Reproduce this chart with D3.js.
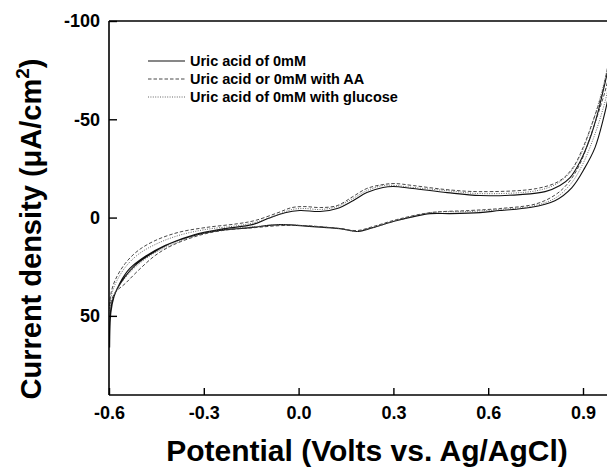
<!DOCTYPE html>
<meta charset="utf-8">
<head>
	<style>
		body { margin: 0; background: #fff; }
		text { font-family: Arial, "Liberation Sans", sans-serif; font-weight: bold; fill: #000; }
		.curve { fill: none; }
	</style>
	<script src="https://cdn.jsdelivr.net/npm/d3@7"></script>
</head>
<body>
<script>

	// potential (V) , current density (uA/cm2) — each loop: forward scan, vertex, reverse scan
	var uricAcid = [
		[-0.598,66.1],[-0.597,51.4],[-0.591,43.2],[-0.575,36.6],[-0.549,30.0],[-0.518,24.4],[-0.470,18.8],
		[-0.407,13.2],[-0.328,8.6],[-0.233,5.6],[-0.147,3.6],[-0.097,0.5],[-0.043,-2.5],[0.004,-3.6],
		[0.068,-3.1],[0.122,-4.6],[0.172,-8.6],[0.216,-12.7],[0.267,-15.3],[0.299,-15.8],[0.362,-14.8],
		[0.470,-12.7],[0.574,-11.2],[0.701,-11.7],[0.780,-13.2],[0.827,-16.3],[0.859,-20.3],[0.891,-28.5],
		[0.922,-40.2],[0.947,-53.4],[0.970,-68.7],[1.004,-92.0],
		[0.985,-65.6],[0.963,-49.3],[0.938,-35.6],[0.906,-25.4],[0.865,-15.3],[0.811,-8.6],[0.732,-5.1],
		[0.637,-3.6],[0.574,-2.5],[0.479,-2.0],[0.416,-2.0],[0.311,1.5],[0.235,5.1],[0.185,7.1],[0.131,5.6],
		[0.046,4.6],[-0.059,3.6],[-0.154,5.1],[-0.249,6.6],[-0.344,9.7],[-0.423,14.2],[-0.486,19.8],
		[-0.534,25.9],[-0.565,33.1],[-0.584,40.2],[-0.594,48.3],[-0.598,66.1]
	];

	var uricAcidAA = [
		[-0.598,44.8],[-0.594,38.7],[-0.581,32.0],[-0.549,23.4],[-0.508,16.8],[-0.454,11.7],[-0.382,7.6],
		[-0.296,5.1],[-0.192,3.1],[-0.138,1.5],[-0.065,-2.5],[-0.021,-5.1],[0.020,-5.6],[0.068,-5.1],
		[0.122,-6.1],[0.172,-10.7],[0.216,-14.8],[0.267,-16.8],[0.305,-17.3],[0.362,-16.3],[0.470,-14.2],
		[0.574,-13.2],[0.754,-14.8],[0.827,-18.8],[0.868,-25.4],[0.900,-35.6],[0.932,-49.3],[0.960,-63.1],
		[0.976,-74.8],[1.000,-95.0],
		[0.976,-68.2],[0.954,-56.0],[0.922,-40.7],[0.891,-27.5],[0.859,-18.8],[0.818,-12.2],[0.754,-7.1],
		[0.637,-4.6],[0.542,-3.6],[0.416,-2.5],[0.311,1.0],[0.235,4.6],[0.185,6.6],[0.131,5.6],[0.020,4.1],
		[-0.059,4.1],[-0.138,5.1],[-0.242,6.6],[-0.318,9.2],[-0.401,14.2],[-0.454,19.3],[-0.508,27.0],
		[-0.549,33.6],[-0.581,38.2],[-0.598,44.8]
	];

	var uricAcidGlucose = [
		[-0.598,47.3],[-0.594,40.7],[-0.581,34.1],[-0.549,25.4],[-0.508,18.8],[-0.454,13.7],[-0.382,9.2],
		[-0.296,6.1],[-0.192,4.1],[-0.138,2.5],[-0.065,-1.5],[-0.021,-4.1],[0.020,-4.6],[0.068,-4.1],
		[0.122,-5.6],[0.172,-9.7],[0.216,-13.7],[0.267,-16.3],[0.305,-16.3],[0.362,-15.3],[0.470,-13.7],
		[0.574,-12.2],[0.754,-13.7],[0.818,-17.3],[0.859,-22.9],[0.891,-31.5],[0.922,-44.3],[0.947,-57.0],
		[0.970,-70.7],[1.000,-93.0],
		[0.979,-65.6],[0.957,-51.9],[0.928,-38.2],[0.897,-26.5],[0.862,-17.3],[0.815,-10.2],[0.748,-6.1],
		[0.637,-4.1],[0.542,-3.1],[0.416,-2.5],[0.311,1.5],[0.235,5.1],[0.185,7.1],[0.131,5.6],[0.020,4.1],
		[-0.059,3.6],[-0.138,4.6],[-0.242,6.1],[-0.318,8.6],[-0.401,13.7],[-0.464,18.8],[-0.515,24.9],
		[-0.553,31.5],[-0.581,38.2],[-0.598,46.3]
	];

	var seriesNames = ["Uric acid of 0mM", "Uric acid or 0mM with AA", "Uric acid of 0mM with glucose"];
	var xTicks = [-0.6, -0.3, 0.0, 0.3, 0.6, 0.9];
	var yTicks = [-100, -50, 0, 50];

	var width = 607, height = 470;

	var svg = d3.select("body").append("svg")
		.attr("width", width)
		.attr("height", height);

	// plot is cut off on the right, so the range runs past the svg edge
	var x = d3.scaleLinear().domain([-0.6, 1.0]).range([109, 614.6]);
	var y = d3.scaleLinear().domain([-100, 90]).range([21, 394.5]);

	svg.append("clipPath").attr("id", "plotClip")
	  .append("rect")
		.attr("x", 109).attr("y", 21)
		.attr("width", width - 109).attr("height", 374);

	var styles = [
		{stroke: "#111", dash: null, w: 1.1},
		{stroke: "#333", dash: "3.5,2", w: 0.9},
		{stroke: "#555", dash: "1,1.4", w: 0.9}
	];

	var line = d3.line()
		.x(function(d) { return x(d[0]) })
		.y(function(d) { return y(d[1]) })
		.curve(d3.curveCatmullRom.alpha(0.5));

	var curves = svg.append("g").attr("clip-path", "url(#plotClip)");
	[uricAcid, uricAcidAA, uricAcidGlucose].forEach(function(data, i) {
		curves.append("path")
			.datum(data)
			.attr("class", "curve")
			.attr("d", line)
			.style("stroke", styles[i].stroke)
			.style("stroke-width", styles[i].w)
			.style("stroke-dasharray", styles[i].dash);
	});

	// axes, ticks pointing inward
	var xAxis = svg.append("g")
		.attr("transform", "translate(0,395)")
		.call(d3.axisBottom(x).tickValues(xTicks).tickSizeInner(-7).tickSizeOuter(0).tickPadding(11)
			.tickFormat(function(d) { return d.toFixed(1) }));

	var yAxis = svg.append("g")
		.attr("transform", "translate(109,0)")
		.call(d3.axisLeft(y).tickValues(yTicks).tickSizeInner(-8).tickSizeOuter(0).tickPadding(9)
			.tickFormat(function(d) { return String(d) }));

	[xAxis, yAxis].forEach(function(a) {
		a.select(".domain").remove();
		a.selectAll(".tick line").style("stroke", "#000").style("stroke-width", 1.4);
		a.selectAll(".tick text").style("font-size", "18px").style("font-family", "Arial, 'Liberation Sans', sans-serif");
	});

	var frame = svg.append("g").style("stroke", "#000").style("stroke-width", 1.6);
	frame.append("line").attr("x1", 109).attr("x2", 109).attr("y1", 21).attr("y2", 395);
	frame.append("line").attr("x1", 109).attr("x2", width).attr("y1", 395).attr("y2", 395);
	frame.append("line").attr("x1", 109).attr("x2", width).attr("y1", 21).attr("y2", 21);

	// legend
	var legend = svg.append("g");
	seriesNames.forEach(function(name, i) {
		var ly = 61 + i * 18;
		legend.append("line")
			.attr("x1", 148).attr("x2", 185).attr("y1", ly).attr("y2", ly)
			.style("stroke", styles[i].stroke)
			.style("stroke-width", styles[i].w)
			.style("stroke-dasharray", styles[i].dash);
		legend.append("text")
			.attr("x", 190).attr("y", ly + 5)
			.style("font-size", "14.5px")
			.text(name);
	});

	// axis titles
	svg.append("text")
		.attr("x", 367).attr("y", 461)
		.attr("text-anchor", "middle")
		.style("font-size", "30px")
		.text("Potential (Volts vs. Ag/AgCl)");

	var yTitle = svg.append("text")
		.attr("transform", "translate(41,229)rotate(-90)")
		.attr("text-anchor", "middle")
		.style("font-size", "29px");
	yTitle.append("tspan").text("Current density (\u03bcA/cm");
	yTitle.append("tspan").attr("dy", -12).style("font-size", "19px").text("2");
	yTitle.append("tspan").attr("dy", 12).text(")");

</script>
</body>
